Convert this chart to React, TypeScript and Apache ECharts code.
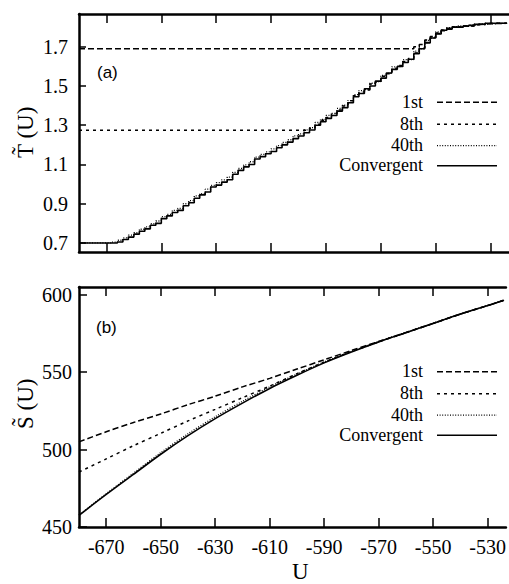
import React, { useEffect, useRef } from "react";
import * as echarts from "echarts";

// ---------- axes ----------
const X_MIN = -680;
const X_MAX = -523.3;
const X_TICKS = [-670, -650, -630, -610, -590, -570, -550, -530];
const T_TICKS = [0.7, 0.9, 1.1, 1.3, 1.5, 1.7];
const S_TICKS = [450, 500, 550, 600];

// ---------- panel (a): T(U) ----------
const U_GRID = [
  -680, -678, -676, -674, -672, -670, -668, -666, -664, -662,
  -660, -658, -656, -654, -652, -650, -648, -646, -644, -642,
  -640, -638, -636, -634, -632, -630, -628, -626, -624, -622,
  -620, -618, -616, -614, -612, -610, -608, -606, -604, -602,
  -600, -598, -596, -594, -592, -590, -588, -586, -584, -582,
  -580, -578, -576, -574, -572, -570, -568, -566, -564, -562,
  -560, -558, -556, -554, -552, -550, -548, -546, -544, -542,
  -540, -538, -536, -534, -532, -530, -528, -526, -524,
];
const T_CONV = [
  0.700, 0.700, 0.700, 0.700, 0.700, 0.700, 0.700, 0.705, 0.718, 0.730,
  0.745, 0.760, 0.772, 0.790, 0.800, 0.824, 0.838, 0.855, 0.866, 0.890,
  0.905, 0.928, 0.945, 0.960, 0.985, 0.995, 1.010, 1.022, 1.050, 1.070,
  1.088, 1.100, 1.128, 1.140, 1.155, 1.166, 1.185, 1.200, 1.214, 1.232,
  1.245, 1.262, 1.276, 1.300, 1.318, 1.335, 1.350, 1.372, 1.390, 1.415,
  1.445, 1.462, 1.486, 1.500, 1.525, 1.540, 1.566, 1.585, 1.600, 1.620,
  1.636, 1.665, 1.690, 1.720, 1.745, 1.765, 1.784, 1.790, 1.800, 1.800,
  1.805, 1.810, 1.814, 1.815, 1.820, 1.820, 1.820, 1.820, 1.820,
];
const T_40TH = [
  0.700, 0.700, 0.700, 0.700, 0.700, 0.700, 0.704, 0.714, 0.726, 0.740,
  0.752, 0.770, 0.782, 0.798, 0.812, 0.834, 0.846, 0.866, 0.876, 0.900,
  0.916, 0.940, 0.952, 0.974, 0.994, 1.008, 1.022, 1.036, 1.060, 1.080,
  1.098, 1.114, 1.138, 1.152, 1.164, 1.180, 1.196, 1.212, 1.226, 1.246,
  1.256, 1.276, 1.288, 1.314, 1.330, 1.350, 1.360, 1.386, 1.402, 1.426,
  1.456, 1.476, 1.482, 1.514, 1.522, 1.554, 1.564, 1.598, 1.600, 1.634,
  1.634, 1.678, 1.690, 1.732, 1.744, 1.776, 1.784, 1.798, 1.802, 1.806,
  1.804, 1.810, 1.812, 1.816, 1.818, 1.816, 1.820, 1.818, 1.816,
];
const U_8TH = [
  -680, -598, -596, -594, -592, -590, -588, -586, -584, -582,
  -580, -578, -576, -574, -572, -570, -568, -566, -564, -562,
  -560, -558, -556, -554, -552, -550, -548, -546, -544, -542,
  -540, -536, -532, -528, -524,
];
const T_8TH = [
  1.275, 1.275, 1.285, 1.305, 1.325, 1.340, 1.360, 1.378, 1.398, 1.425,
  1.450, 1.470, 1.480, 1.510, 1.520, 1.550, 1.562, 1.590, 1.605, 1.625,
  1.640, 1.668, 1.695, 1.722, 1.748, 1.768, 1.786, 1.792, 1.802, 1.800,
  1.806, 1.812, 1.820, 1.820, 1.820,
];
const U_1ST = [
  -680, -560, -558, -556, -554, -552, -550, -548, -546, -544,
  -542, -540, -536, -532, -528, -524,
];
const T_1ST = [
  1.690, 1.690, 1.700, 1.712, 1.735, 1.752, 1.770, 1.782, 1.795, 1.800,
  1.802, 1.806, 1.815, 1.818, 1.820, 1.820,
];

// ---------- panel (b): S(U) ----------
const U_S = [-680, -670, -660, -650, -640, -630, -620, -610, -600, -590, -580, -570, -560, -550, -540, -530, -524];
const S_CONV = [457.5, 471, 484, 497, 509, 520, 530, 539.5, 548, 556, 563, 569.5, 575.5, 581.5, 587.5, 593, 596.5];
const S_40TH = [457.8, 471.5, 484.8, 498, 510.2, 521.2, 531.2, 540.5, 548.8, 556.6, 563.4, 569.8, 575.7, 581.6, 587.5, 593, 596.5];
const S_8TH = [485.5, 494, 502.5, 510.5, 518.5, 526, 533.5, 541, 549, 556.5, 563.3, 569.5, 575.5, 581.5, 587.5, 593, 596.5];
const S_1ST = [505, 511.5, 517.5, 523, 529, 534.5, 540.5, 546, 552, 558, 564, 569.8, 575.6, 581.5, 587.5, 593, 596.5];

const LEGEND_NAMES = ["1st", "8th", "40th", "Convergent"];
const LEGEND_DASH: (number[] | null)[] = [[6, 3], [3, 4], [1, 1.6], null];

const zip = (xs: number[], ys: number[]) => xs.map((x, i) => [x, ys[i]]);

const SERIF = "Liberation Serif";
const SANS = "Liberation Sans";

const CSS = `
#root svg text { font-family: "Liberation Serif", "Times New Roman", serif !important; }
#root svg text[style*="17px"] { font-family: "Liberation Sans", Arial, sans-serif !important; }
`;

export default function App() {
  const ref = useRef<HTMLDivElement>(null);

  useEffect(() => {
    document.body.style.margin = "0";
    if (!ref.current) return;
    const chart = echarts.init(ref.current, undefined, { renderer: "svg" });

    const axisLine = { show: true, lineStyle: { color: "#000", width: 2.5 } };
    const xTick = { show: true, inside: true, length: 9, customValues: X_TICKS, lineStyle: { color: "#000", width: 1.5 } };
    const mkX = (grid: number, pos: string, labels: boolean) => ({
      gridIndex: grid,
      type: "value",
      min: X_MIN,
      max: X_MAX,
      position: pos,
      axisLine,
      axisTick: xTick,
      splitLine: { show: false },
      axisLabel: labels
        ? { show: true, customValues: X_TICKS, color: "#000", fontSize: 20, fontFamily: SERIF, margin: 10 }
        : { show: false },
    });

    const lineSeries = (name: string, xi: number, yi: number, data: number[][], dash: number[] | null, width: number, step: any) => ({
      name,
      type: "line",
      xAxisIndex: xi,
      yAxisIndex: yi,
      data,
      step,
      smooth: step ? false : 0.3,
      symbol: "none",
      showSymbol: false,
      silent: true,
      lineStyle: { color: "#000", width, type: dash ? dash : "solid" },
    });

    const legendLines = (y0: number) => {
      const els: any[] = [];
      const ys = [0, 22, 43.4, 63.4];
      LEGEND_NAMES.forEach((n, i) => {
        const y = y0 + ys[i];
        els.push({
          type: "text",
          x: 423,
          y: y - 9.5,
          style: { text: n, fill: "#000", fontSize: 18, fontFamily: SERIF, align: "right" },
        });
        els.push({
          type: "line",
          shape: { x1: 437, y1: y, x2: 497, y2: y },
          style: { stroke: "#000", lineWidth: i === 2 ? 1.3 : 1.5, lineDash: LEGEND_DASH[i] || undefined },
        });
      });
      return els;
    };

    const option: any = {
      animation: false,
      backgroundColor: "#fff",
      textStyle: { fontFamily: SERIF },
      grid: [
        { left: 79, top: 14, right: 0, height: 238 },
        { left: 79, top: 287, right: 0, height: 240 },
      ],
      xAxis: [mkX(0, "bottom", false), mkX(0, "top", false), mkX(1, "bottom", true), mkX(1, "top", false)],
      yAxis: [
        {
          gridIndex: 0,
          type: "value",
          min: 0.654,
          max: 1.867,
          axisLine,
          axisTick: { show: true, inside: true, length: 7, customValues: T_TICKS, lineStyle: { color: "#000", width: 1.5 } },
          splitLine: { show: false },
          axisLabel: {
            customValues: T_TICKS,
            color: "#000",
            fontSize: 20,
            fontFamily: SERIF,
            margin: 11,
            formatter: (v: number) => v.toFixed(1),
          },
        },
        {
          gridIndex: 1,
          type: "value",
          min: 450,
          max: 605,
          axisLine,
          axisTick: { show: true, inside: true, length: 8, customValues: S_TICKS, lineStyle: { color: "#000", width: 1.5 } },
          splitLine: { show: false },
          axisLabel: { customValues: S_TICKS, color: "#000", fontSize: 20, fontFamily: SERIF, margin: 7 },
        },
      ],
      series: [
        lineSeries("1st", 0, 0, zip(U_1ST, T_1ST), [6, 3], 1.5, "end"),
        lineSeries("8th", 0, 0, zip(U_8TH, T_8TH), [3, 4], 1.5, "end"),
        lineSeries("40th", 0, 0, zip(U_GRID, T_40TH), [1, 1.6], 1.3, "end"),
        lineSeries("Convergent", 0, 0, zip(U_GRID, T_CONV), null, 1.6, "end"),
        lineSeries("1st", 2, 1, zip(U_S, S_1ST), [6, 3], 1.5, false),
        lineSeries("8th", 2, 1, zip(U_S, S_8TH), [3, 4], 1.5, false),
        lineSeries("40th", 2, 1, zip(U_S, S_40TH), [1, 1.6], 1.3, false),
        lineSeries("Convergent", 2, 1, zip(U_S, S_CONV), null, 1.6, false),
      ],
      graphic: [
        { type: "text", x: 97, y: 64, style: { text: "(a)", fill: "#000", fontSize: 17, fontFamily: SANS } },
        { type: "text", x: 96, y: 319, style: { text: "(b)", fill: "#000", fontSize: 17, fontFamily: SANS } },
        { type: "text", x: 14, y: 158, rotation: Math.PI / 2, style: { text: "T\u0303 (U)", fill: "#000", fontSize: 23, fontFamily: SERIF } },
        { type: "text", x: 14, y: 429, rotation: Math.PI / 2, style: { text: "S\u0303 (U)", fill: "#000", fontSize: 23, fontFamily: SERIF } },
        { type: "text", x: 292, y: 560, style: { text: "U", fill: "#000", fontSize: 23, fontFamily: SERIF } },
        ...legendLines(102.3),
        ...legendLines(371.8),
      ],
    };

    chart.setOption(option);
    return () => chart.dispose();
  }, []);

  return (
    <>
      <style>{CSS}</style>
      <div ref={ref} style={{ width: 509, height: 584 }} />
    </>
  );
}
